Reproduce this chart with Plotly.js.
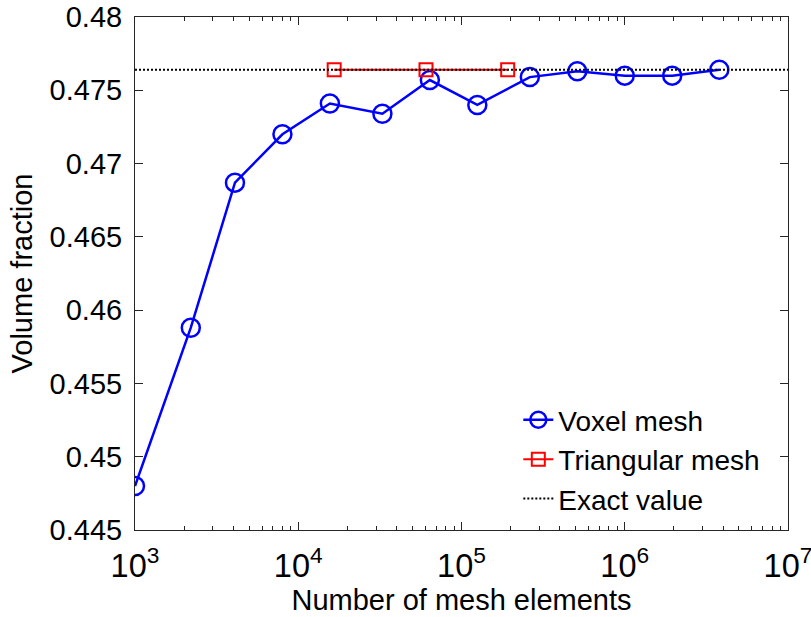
<!DOCTYPE html>
<html>
<head>
<meta charset="utf-8">
<script src="https://cdn.plot.ly/plotly-3.0.1.min.js"></script>
<style>
  html, body { margin: 0; padding: 0; background: #fff; }
  #chart { width: 811px; height: 617px; }
</style>
</head>
<body>
<div id="chart"></div>
<script>
// Convergence of the computed volume fraction with mesh refinement
const voxelElements = [1000, 2197, 4096, 8000, 15625, 32768, 64000, 125000, 262144, 512000, 1000000, 1953125, 3796416];
const voxelFraction = [0.4480, 0.4588, 0.4687, 0.4720, 0.4741, 0.4734, 0.4757, 0.4740, 0.4759, 0.4763, 0.4760, 0.4760, 0.4764];

const triElements = [16600, 60600, 191800];
const triFraction = [0.4764, 0.4764, 0.4764];

const exactRange = [1e3, 1e7];
const exactFraction = 0.4764;

const yTicks = [0.445, 0.45, 0.455, 0.46, 0.465, 0.47, 0.475, 0.48];
const yTickText = ['0.445', '0.45', '0.455', '0.46', '0.465', '0.47', '0.475', '0.48'];

const FONT = 'Arial, "Liberation Sans", Helvetica, sans-serif';

const traces = [
  {
    x: voxelElements, y: voxelFraction, name: 'Voxel mesh',
    type: 'scatter', mode: 'lines+markers',
    line: { color: '#0000ff', width: 2.5 },
    marker: { symbol: 'circle-open', size: 18, color: '#0000ff', line: { width: 2.5, color: '#0000ff' } }
  },
  {
    x: triElements, y: triFraction, name: 'Triangular mesh',
    type: 'scatter', mode: 'lines+markers',
    line: { color: '#ff0000', width: 2 },
    marker: { symbol: 'square-open', size: 13, color: '#ff0000', line: { width: 2, color: '#ff0000' } }
  },
  {
    x: exactRange, y: [exactFraction, exactFraction], name: 'Exact value',
    type: 'scatter', mode: 'lines',
    line: { color: '#000000', width: 2, dash: '2px,2px' }
  }
];

const axisCommon = {
  showline: true, linecolor: '#262626', linewidth: 1, mirror: 'ticks',
  ticks: 'inside', ticklen: 8, tickwidth: 1, tickcolor: '#262626',
  showgrid: false, zeroline: false
};

const layout = {
  width: 811, height: 617,
  margin: { l: 135, r: 23, t: 17, b: 87 },
  paper_bgcolor: '#fff', plot_bgcolor: '#fff',
  font: { family: FONT, color: '#000' },
  showlegend: true,
  legend: {
    x: 0.587, y: 0.263, xanchor: 'left', yanchor: 'top',
    bgcolor: 'rgba(0,0,0,0)', borderwidth: 0,
    font: { family: FONT, size: 28, color: '#000' },
    itemwidth: 30, tracegroupgap: 0
  },
  xaxis: Object.assign({}, axisCommon, {
    type: 'log', range: [3, 7], dtick: 1, exponentformat: 'power',
    tickfont: { family: FONT, size: 26, color: '#000' },
    ticklabeloverflow: 'allow', ticklabelstandoff: 8,
    minor: { ticks: 'inside', ticklen: 4, tickcolor: '#262626', dtick: 'D1', showgrid: false },
    title: { text: 'Number of mesh elements', font: { family: FONT, size: 29 }, standoff: 6 }
  }),
  yaxis: Object.assign({}, axisCommon, {
    range: [0.445, 0.48], tickvals: yTicks, ticktext: yTickText,
    tickfont: { family: FONT, size: 29, color: '#000' },
    ticklabelstandoff: 6,
    title: { text: 'Volume fraction', font: { family: FONT, size: 29 }, standoff: 8 }
  })
};

Plotly.newPlot('chart', traces, layout, { displayModeBar: false, staticPlot: true });
</script>
</body>
</html>
